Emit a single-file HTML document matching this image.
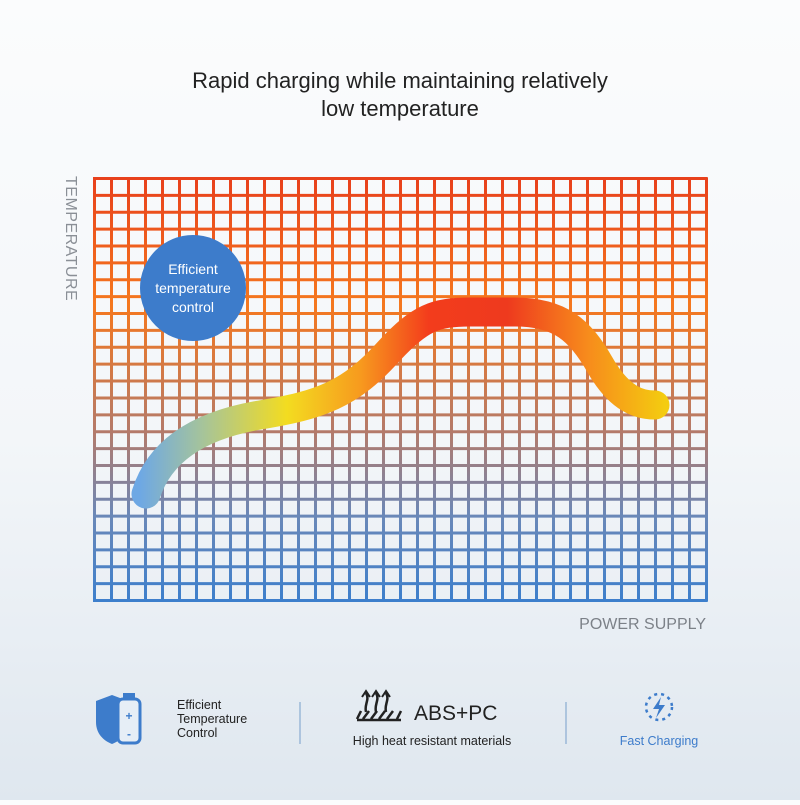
<!DOCTYPE html>
<html><head><meta charset="utf-8"><style>
body{margin:0;width:800px;height:800px;overflow:hidden;font-family:"Liberation Sans",sans-serif;background:linear-gradient(#fbfcfd 0%,#f3f6f9 55%,#dfe7ef 100%);}
</style></head><body>
<svg width="800" height="800" xmlns="http://www.w3.org/2000/svg">
<defs>
<linearGradient id="vg" x1="0" y1="177" x2="0" y2="601" gradientUnits="userSpaceOnUse">
<stop offset="0" stop-color="#e8401c"/><stop offset="0.3" stop-color="#f5781e"/>
<stop offset="0.6" stop-color="#b47a6a"/><stop offset="0.8" stop-color="#6a88b8"/>
<stop offset="1" stop-color="#3d7fcc"/></linearGradient>
<linearGradient id="cg" x1="140" y1="0" x2="665" y2="0" gradientUnits="userSpaceOnUse">
<stop offset="0" stop-color="#6ea8e4"/><stop offset="0.12" stop-color="#a6c49a"/><stop offset="0.28" stop-color="#f3dc20"/>
<stop offset="0.42" stop-color="#f79a1e"/><stop offset="0.55" stop-color="#f33c1c"/><stop offset="0.7" stop-color="#ee3a1e"/>
<stop offset="0.85" stop-color="#f78a1c"/><stop offset="1" stop-color="#f4cc10"/></linearGradient>
</defs>
<text x="400" y="88" text-anchor="middle" font-size="22" fill="#222">Rapid charging while maintaining relatively</text>
<text x="400" y="116" text-anchor="middle" font-size="22" fill="#222">low temperature</text>
<path id="grid" fill="none" stroke="url(#vg)" stroke-width="3" d=""/>
<text transform="translate(66,176) rotate(90)" font-size="16" fill="#8a8f96" letter-spacing="0.5">TEMPERATURE</text>
<text x="706" y="629" text-anchor="end" font-size="16" fill="#7c8188">POWER SUPPLY</text>
<circle cx="193" cy="288" r="53" fill="#3d7ccb"/>
<text x="193" y="274" text-anchor="middle" font-size="14" fill="#fff">Efficient</text>
<text x="193" y="293" text-anchor="middle" font-size="14" fill="#fff">temperature</text>
<text x="193" y="312" text-anchor="middle" font-size="14" fill="#fff">control</text>
<path d="M146 494 C160 450 200 425 260 415 C320 405 350 395 390 350 C420 318 435 312 470 312 L515 312 C560 312 580 330 600 365 C620 400 640 405 655 405" fill="none" stroke="url(#cg)" stroke-width="29" stroke-linecap="round"/>
<line x1="300" y1="702" x2="300" y2="744" stroke="#9bb8d8" stroke-width="1.5"/>
<line x1="566" y1="702" x2="566" y2="744" stroke="#9bb8d8" stroke-width="1.5"/>
<path d="M112 695 L128 701 L128 722 C128 734 120 741 112 744 C104 741 96 734 96 722 L96 701Z" fill="#3d7ccb"/>
<rect x="118" y="699" width="22" height="44" rx="5" fill="#e6eef6" stroke="#3d7ccb" stroke-width="3"/>
<rect x="123" y="693" width="12" height="6" fill="#3d7ccb"/>
<text x="129" y="720" text-anchor="middle" font-size="12" fill="#3d7ccb" font-weight="bold">+</text>
<text x="129" y="738" text-anchor="middle" font-size="12" fill="#3d7ccb" font-weight="bold">-</text>
<text x="177" y="709" font-size="12.5" fill="#222">Efficient</text>
<text x="177" y="723" font-size="12.5" fill="#222">Temperature</text>
<text x="177" y="737" font-size="12.5" fill="#222">Control</text>
<g stroke="#222" stroke-width="2.5" fill="none">
<path d="M357 720 L401 720 M361 711 L357 719 M401 711 L397 719 M363 719 L369 711 M371 719 L377 711 M379 719 L385 711 M387 719 L393 711"/>
<path d="M366 712 C364 704 370 700 366 693 M376 712 C374 704 380 700 376 693 M386 712 C384 704 390 700 386 693"/>
<path d="M362 697 L366 691 L370 697 M372 697 L376 691 L380 697 M382 697 L386 691 L390 697" stroke-width="2"/>
</g>
<text x="414" y="720" font-size="21" fill="#222">ABS+PC</text>
<text x="432" y="745" text-anchor="middle" font-size="12.5" fill="#222">High heat resistant materials</text>
<circle cx="659" cy="707" r="13" fill="none" stroke="#3d7ccb" stroke-width="2.5" stroke-dasharray="3 4"/>
<path d="M661 697 L653 709 L659 709 L656 718 L665 705 L659 705Z" fill="#3d7ccb"/>
<text x="659" y="745" text-anchor="middle" font-size="12.5" fill="#3d7ccb">Fast Charging</text>
</svg>
<script>
var d="";
for(var i=0;i<=36;i++){var x=(94.5+i*(612/36)).toFixed(2);d+="M"+x+" 177.5V601.5";}
for(var j=0;j<=25;j++){var y=(178.5+j*(422/25)).toFixed(2);d+="M93 "+y+"H707.5";}
document.getElementById("grid").setAttribute("d",d);
</script>
</body></html>
